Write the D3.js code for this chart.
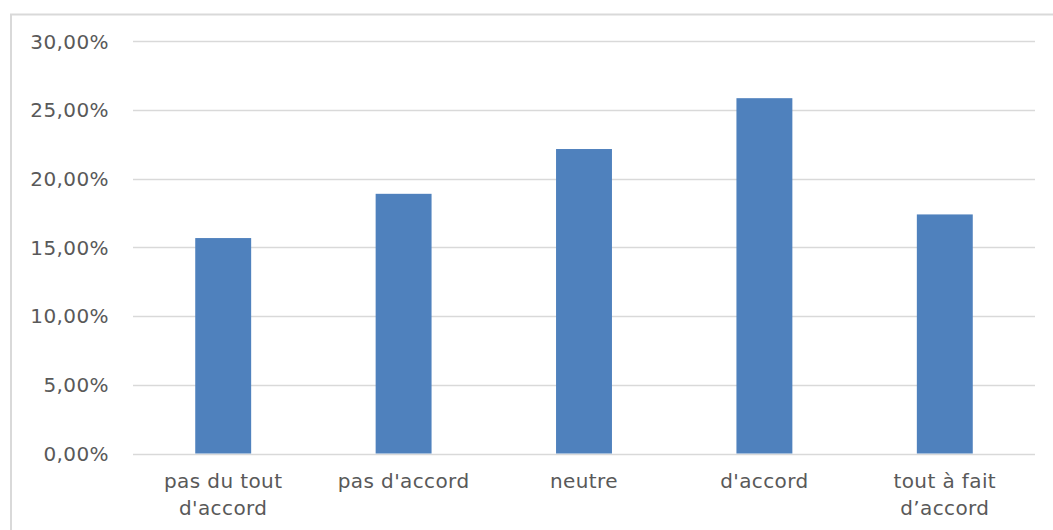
<!DOCTYPE html>
<html>
<head>
<meta charset="utf-8">
<script src="https://cdn.jsdelivr.net/npm/d3@7"></script>
<style>
  html, body { margin: 0; padding: 0; background: #ffffff; }
  svg { display: block; }
</style>
</head>
<body>
<svg id="chart" width="1053" height="530"></svg>
<script>
// Survey answers and their share of respondents (%)
const categories = [["pas du tout", "d'accord"], ["pas d'accord"], ["neutre"], ["d'accord"], ["tout à fait", "d\u2019accord"]];
const shares = [15.68, 18.9, 22.16, 25.86, 17.4];
const yTicks = [0, 5, 10, 15, 20, 25, 30];

const svg = d3.select("#chart");
const W = 1053, H = 530;
const plot = { left: 133, right: 1035, top: 41.3, bottom: 453.5 };
const textStyle = sel => sel
  .attr("font-family", "DejaVu Sans, sans-serif")
  .attr("font-size", 20)
  .attr("letter-spacing", 0.4)
  .attr("fill", "#595959");

// Outer chart frame (clipped by the page on the right and bottom)
svg.append("rect")
  .attr("x", 11).attr("y", 14.5)
  .attr("width", W + 20).attr("height", H + 20)
  .attr("fill", "#ffffff")
  .attr("stroke", "#d9d9d9").attr("stroke-width", 2);

const x = d3.scaleBand()
  .domain(d3.range(categories.length))
  .range([plot.left, plot.right])
  .paddingInner(0.69)
  .paddingOuter(0.345);

const y = d3.scaleLinear()
  .domain([0, 30])
  .range([plot.bottom, plot.top]);

const fmt = v => d3.format(".2f")(v).replace(".", ",") + "%";

// Horizontal gridlines
svg.append("g")
  .selectAll("line")
  .data(yTicks)
  .join("line")
  .attr("x1", plot.left).attr("x2", plot.right)
  .attr("y1", d => Math.round(y(d)) + 0.5).attr("y2", d => Math.round(y(d)) + 0.5)
  .attr("stroke", "#d9d9d9").attr("stroke-width", 1.3);

// Y tick labels
svg.append("g")
  .selectAll("text")
  .data(yTicks)
  .join("text")
  .attr("x", 109)
  .attr("y", d => y(d))
  .attr("dy", "0.36em")
  .attr("text-anchor", "end")
  .call(textStyle)
  .text(fmt);

// Bars
svg.append("g")
  .selectAll("rect")
  .data(shares)
  .join("rect")
  .attr("x", (d, i) => x(i))
  .attr("y", d => y(d))
  .attr("width", x.bandwidth())
  .attr("height", d => y(0) - y(d))
  .attr("fill", "#4f81bd");

// Category labels (wrapped on two lines where needed)
const labels = svg.append("g")
  .selectAll("text")
  .data(categories)
  .join("text")
  .attr("text-anchor", "middle")
  .call(textStyle)
  .attr("x", (d, i) => x(i) + x.bandwidth() / 2)
  .attr("y", 488);

labels.selectAll("tspan")
  .data((d, i) => d.map(t => ({ t, i })))
  .join("tspan")
  .attr("x", d => x(d.i) + x.bandwidth() / 2)
  .attr("dy", (d, j) => j === 0 ? 0 : 27)
  .text(d => d.t);
</script>
</body>
</html>
